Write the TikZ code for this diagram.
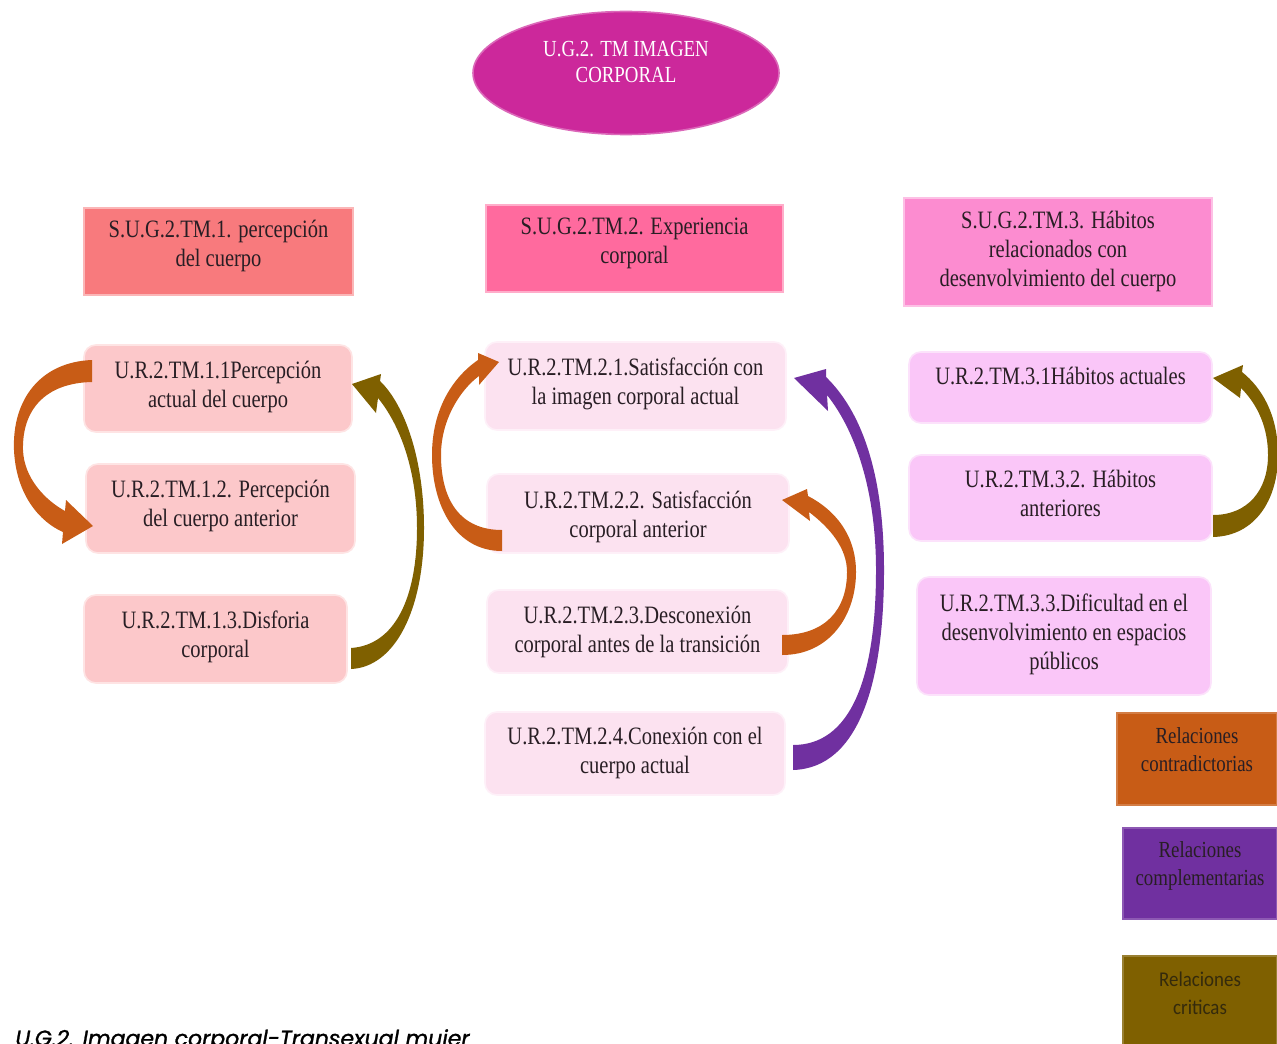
\documentclass[tikz,border=0pt]{standalone}
\usepackage{fontspec}
\setmainfont{Liberation Serif}[FakeStretch=0.82]
\newfontfamily\legfont{Carlito}[FakeStretch=0.9]
\newfontfamily\capfont{Poppins}[FakeBold=1.2]
\usetikzlibrary{shapes.geometric,calc}
\definecolor{txt}{RGB}{40,30,36}
\definecolor{ellfill}{RGB}{204,40,155}
\definecolor{hone}{RGB}{248,122,125}
\definecolor{htwo}{RGB}{255,106,158}
\definecolor{hthree}{RGB}{252,140,208}
\definecolor{lfill}{RGB}{252,200,202}
\definecolor{mfill}{RGB}{252,226,240}
\definecolor{rfill}{RGB}{250,198,248}
\definecolor{orangeA}{RGB}{200,92,22}
\definecolor{purpleA}{RGB}{112,48,160}
\definecolor{oliveA}{RGB}{127,96,0}
\newcommand\tx[2]{\raisebox{\dimexpr -#1pt/2 - 3.5pt\relax}[0pt][0pt]{\begin{tabular}{@{}c@{}}#2\end{tabular}}}
\begin{document}
\begin{tikzpicture}[x=0.5pt,y=-0.5pt,
  box/.style={rectangle, rounded corners=6pt, inner sep=0pt, outer sep=0pt, text=txt,
    line width=0.8pt, font=\fontsize{12.5}{14.5}\selectfont},
  hbox/.style={box, rounded corners=0pt, fill=#1, draw=#1!55!white},
  lbox/.style={box, fill=lfill, draw=lfill!50!white},
  mbox/.style={box, fill=mfill, draw=mfill!50!white},
  rbox/.style={box, fill=rfill, draw=rfill!50!white},
  legbox/.style={rectangle, inner sep=0pt, outer sep=0pt, fill=#1, draw=#1!80!white,
    line width=0.6pt, text=txt, font=\fontsize{11.5}{14}\selectfont},
  ell/.style={ellipse, fill=ellfill, draw=ellfill!70!white, line width=0.8pt, inner sep=0pt,
    text=white, font=\fontsize{11.5}{13}\selectfont}
]
\useasboundingbox (0,0) rectangle (1277,1043);
\fill[white] (0,0) rectangle (1277,1043);

% top ellipse
\node[ell, minimum width=153pt, minimum height=61.5pt] (E) at (626,73)
  {\tx{-10}{U.G.2. TM IMAGEN\\CORPORAL}};

% headers
\node[hbox=hone, minimum width=134.5pt, minimum height=43.5pt] (H1) at (218.5,251.5)
  {\tx{-6.5}{S.U.G.2.TM.1. percepción\\del cuerpo}};
\node[hbox=htwo, minimum width=148.5pt, minimum height=43.5pt] (H2) at (634.5,248.5)
  {\tx{-6.5}{S.U.G.2.TM.2. Experiencia\\corporal}};
\node[hbox=hthree, minimum width=154pt, minimum height=54pt] (H3) at (1058,252)
  {\tx{-1.3}{S.U.G.2.TM.3. Hábitos\\relacionados con\\desenvolvimiento del cuerpo}};

% left column
\node[lbox, minimum width=134pt, minimum height=43.5pt] (L1) at (218,388.5)
  {\tx{-2}{U.R.2.TM.1.1Percepción\\actual del cuerpo}};
\node[lbox, minimum width=134.5pt, minimum height=44.5pt] (L2) at (220.5,508.5)
  {\tx{-3}{U.R.2.TM.1.2. Percepción\\del cuerpo anterior}};
\node[lbox, minimum width=131.5pt, minimum height=44pt] (L3) at (215.5,639)
  {\tx{-3}{U.R.2.TM.1.3.Disforia\\corporal}};

% middle column
\node[mbox, minimum width=150.5pt, minimum height=44pt] (M1) at (635.5,386)
  {\tx{-2.5}{U.R.2.TM.2.1.Satisfacción con\\la imagen corporal actual}};
\node[mbox, minimum width=151pt, minimum height=39.5pt] (M2) at (638,513.5)
  {\tx{3}{U.R.2.TM.2.2. Satisfacción\\corporal anterior}};
\node[mbox, minimum width=150.5pt, minimum height=41.5pt] (M3) at (637.5,631.5)
  {\tx{0}{U.R.2.TM.2.3.Desconexión\\corporal antes de la transición}};
\node[mbox, minimum width=150pt, minimum height=41.5pt] (M4) at (635,753.5)
  {\tx{-1.5}{U.R.2.TM.2.4.Conexión con el\\cuerpo actual}};

% right column
\node[rbox, minimum width=151.5pt, minimum height=35.5pt] (R1) at (1060.5,387.5)
  {\tx{-9.5}{U.R.2.TM.3.1Hábitos actuales}};
\node[rbox, minimum width=151.5pt, minimum height=43pt] (R2) at (1060.5,498)
  {\tx{-2.5}{U.R.2.TM.3.2. Hábitos\\anteriores}};
\node[rbox, minimum width=147pt, minimum height=59pt] (R3) at (1064,636)
  {\tx{-2}{U.R.2.TM.3.3.Dificultad en el\\desenvolvimiento en espacios\\públicos}};

% legend
\node[legbox=orangeA, minimum width=80pt, minimum height=46pt] (G1) at (1197,759)
  {\tx{-8}{Relaciones\\contradictorias}};
\node[legbox=purpleA, minimum width=77pt, minimum height=45.5pt] (G2) at (1200,873.5)
  {\tx{-8.5}{Relaciones\\complementarias}};
\node[legbox=oliveA, minimum width=77pt, minimum height=47pt, text={rgb,255:red,52;green,42;blue,12},
  font=\legfont\fontsize{10.5}{14}\selectfont] (G3) at (1200,1003)
  {\tx{-10}{Relaciones\\criticas}};

% caption (cut by the lower edge, as in the reference)
\node[anchor=base west, inner sep=0pt, text=black, font=\capfont\itshape\fontsize{11}{13}\selectfont]
  (cap) at (15,1046) {U.G.2. Imagen corporal-Transexual mujer};

% curved arrows
% L1 -> L2 (contradictory)
\fill[orangeA] ($(L1.west)+(8,-28.5)$) .. controls (40,362) and (12,400) .. (14,450)
  .. controls (16,495) and (40,522) .. (63,532) -- (62,544) -- ($(L2.west)+(7,17.5)$)
  -- (66,500) -- (65,511) .. controls (45,500) and (24,478) .. (23,450)
  .. controls (22,410) and (45,383) .. ($(L1.west)+(8,-6.5)$) -- cycle;
% L3 -> L1 (critical)
\fill[oliveA] ($(L3.east)+(4,30)$) .. controls (395,667) and (424,610) .. (424,528)
  .. controls (424,460) and (405,405) .. (380,381) -- (381,374) -- ($(L1.east)+(0,-4.5)$)
  -- (376,413) -- (378,398) .. controls (400,425) and (417,470) .. (417,528)
  .. controls (417,598) and (395,645) .. ($(L3.east)+(4,9)$) -- cycle;
% M2 -> M1 (contradictory)
\fill[orangeA] ($(M2.west)+(15,37.5)$) .. controls (455,551) and (432,505) .. (432,455)
  .. controls (432,410) and (452,378) .. (478,360) -- (478,353) -- ($(M1.west)+(14,-24)$)
  -- (479,385) -- (479,376) .. controls (460,390) and (441,420) .. (441,455)
  .. controls (441,500) and (460,530) .. ($(M2.west)+(15,16.5)$) -- cycle;
% M3 -> M2 (contradictory)
\fill[orangeA] ($(M3.east)+(-6,23.5)$) .. controls (830,655) and (856,615) .. (856,572)
  .. controls (856,535) and (835,510) .. (808,496) -- (807,489) -- ($(M2.east)+(-7,-13.5)$)
  -- (810,521) -- (809,512) .. controls (830,528) and (847,548) .. (847,572)
  .. controls (847,610) and (825,635) .. ($(M3.east)+(-6,3.5)$) -- cycle;
% M4 -> M1 (complementary)
\fill[purpleA] ($(M4.east)+(8,16.5)$) .. controls (860,768) and (884,680) .. (884,570)
  .. controls (884,470) and (860,410) .. (826,377) -- (826,369) -- ($(M1.east)+(8,-8)$)
  -- (828,411) -- (827,395) .. controls (855,430) and (876,490) .. (876,570)
  .. controls (876,680) and (850,745) .. ($(M4.east)+(8,-8.5)$) -- cycle;
% R2 -> R1 (critical)
\fill[oliveA] ($(R2.east)+(1,39)$) .. controls (1255,536) and (1278,500) .. (1278,455)
  .. controls (1278,415) and (1262,388) .. (1242,372) -- (1243,365) -- ($(R1.east)+(1,-9.5)$)
  -- (1240,398) -- (1241,388) .. controls (1258,405) and (1268,428) .. (1268,455)
  .. controls (1268,490) and (1248,515) .. ($(R2.east)+(1,17)$) -- cycle;
\end{tikzpicture}
\end{document}
